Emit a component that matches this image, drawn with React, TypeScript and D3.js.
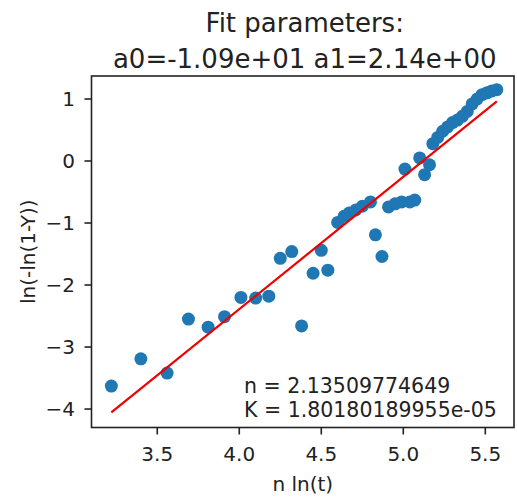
import React, { useEffect, useRef } from 'react';
import * as d3 from 'd3';

// observed points: n ln(t) vs ln(-ln(1-Y))
const xVals = [
  3.22, 3.4, 3.56, 3.69, 3.81, 3.91, 4.01, 4.1, 4.18, 4.25, 4.32, 4.38, 4.45, 4.5, 4.54,
  4.6, 4.64, 4.67, 4.71, 4.75, 4.8, 4.83, 4.87, 4.91, 4.95, 4.99, 5.01, 5.04, 5.07, 5.1,
  5.13, 5.16, 5.18, 5.21, 5.24, 5.27, 5.3, 5.33, 5.36, 5.39, 5.42, 5.45, 5.48, 5.51, 5.54, 5.57,
];
const yVals = [
  -3.63, -3.19, -3.42, -2.55, -2.68, -2.51, -2.2, -2.21, -2.18, -1.57, -1.46, -2.66, -1.81, -1.44, -1.76,
  -0.99, -0.89, -0.84, -0.79, -0.73, -0.66, -1.19, -1.54, -0.74, -0.69, -0.66, -0.13, -0.66, -0.63, 0.05,
  -0.22, -0.06, 0.28, 0.38, 0.48, 0.55, 0.62, 0.66, 0.72, 0.8, 0.92, 1.0, 1.07, 1.1, 1.13, 1.15,
];
const a0 = -10.93;
const a1 = 2.135;
const xTicks = [3.5, 4.0, 4.5, 5.0, 5.5];
const yTicks = [1, 0, -1, -2, -3, -4];
const titleLines = ['Fit parameters:', 'a0=-1.09e+01 a1=2.14e+00'];
const noteLines = ['n = 2.13509774649', 'K = 1.80180189955e-05'];

const W = 517;
const H = 499;
const FONT = 'DejaVu Sans, sans-serif';

const App = () => {
  const ref = useRef<SVGSVGElement | null>(null);

  useEffect(() => {
    if (!ref.current) return;
    const svg = d3.select(ref.current);
    svg.selectAll('*').remove();

    const left = 91.5;
    const right = 514;
    const top = 76;
    const bottom = 427.5;

    const x = d3.scaleLinear().domain([3.099, 5.675]).range([left, right]);
    const y = d3.scaleLinear().domain([-4.298, 1.371]).range([bottom, top]);

    const pts = xVals.map((v, i) => [v, yVals[i]] as [number, number]);

    svg
      .append('g')
      .selectAll('circle')
      .data(pts)
      .enter()
      .append('circle')
      .attr('cx', (d) => x(d[0]))
      .attr('cy', (d) => y(d[1]))
      .attr('r', 6.5)
      .attr('fill', '#1f77b4');

    const xr = d3.extent(xVals) as [number, number];
    const line = d3
      .line<number>()
      .x((d) => x(d))
      .y((d) => y(a0 + a1 * d));
    svg
      .append('path')
      .datum(xr)
      .attr('fill', 'none')
      .attr('stroke', '#f00000')
      .attr('stroke-width', 2.2)
      .attr('d', line);

    // spines
    svg
      .append('rect')
      .attr('x', left)
      .attr('y', top)
      .attr('width', right - left)
      .attr('height', bottom - top)
      .attr('fill', 'none')
      .attr('stroke', '#222')
      .attr('stroke-width', 1.6);

    const gx = svg.append('g');
    xTicks.forEach((t) => {
      gx.append('line')
        .attr('x1', x(t))
        .attr('x2', x(t))
        .attr('y1', bottom)
        .attr('y2', bottom + 7)
        .attr('stroke', '#222')
        .attr('stroke-width', 1.6);
      gx.append('text')
        .attr('x', x(t))
        .attr('y', 461)
        .attr('text-anchor', 'middle')
        .attr('font-family', FONT)
        .attr('font-size', 20)
        .attr('fill', '#222')
        .text(d3.format('.1f')(t));
    });

    const gy = svg.append('g');
    yTicks.forEach((t) => {
      gy.append('line')
        .attr('x1', left - 7)
        .attr('x2', left)
        .attr('y1', y(t))
        .attr('y2', y(t))
        .attr('stroke', '#222')
        .attr('stroke-width', 1.6);
      gy.append('text')
        .attr('x', 75)
        .attr('y', y(t))
        .attr('dy', '0.36em')
        .attr('text-anchor', 'end')
        .attr('font-family', FONT)
        .attr('font-size', 20)
        .attr('fill', '#222')
        .text(d3.format('d')(t));
    });

    svg
      .append('text')
      .attr('x', (left + right) / 2)
      .attr('y', 491)
      .attr('text-anchor', 'middle')
      .attr('font-family', FONT)
      .attr('font-size', 20)
      .attr('fill', '#222')
      .text('n ln(t)');

    svg
      .append('text')
      .attr('transform', `translate(35, ${(top + bottom) / 2}) rotate(-90)`)
      .attr('text-anchor', 'middle')
      .attr('font-family', FONT)
      .attr('font-size', 20)
      .attr('fill', '#222')
      .text('ln(-ln(1-Y))');

    titleLines.forEach((s, i) => {
      svg
        .append('text')
        .attr('x', (left + right) / 2 + 2)
        .attr('y', 32 + i * 36)
        .attr('text-anchor', 'middle')
        .attr('font-family', FONT)
        .attr('font-size', 26)
        .attr('fill', '#222')
        .text(s);
    });

    noteLines.forEach((s, i) => {
      svg
        .append('text')
        .attr('x', 244)
        .attr('y', 393 + i * 23.5)
        .attr('font-family', FONT)
        .attr('font-size', 20.5)
        .attr('fill', '#222')
        .text(s);
    });
  }, []);

  return (
    <svg
      ref={ref}
      width={W}
      height={H}
      style={{ position: 'absolute', left: 0, top: 0, background: '#fff' }}
    />
  );
};

export default App;
